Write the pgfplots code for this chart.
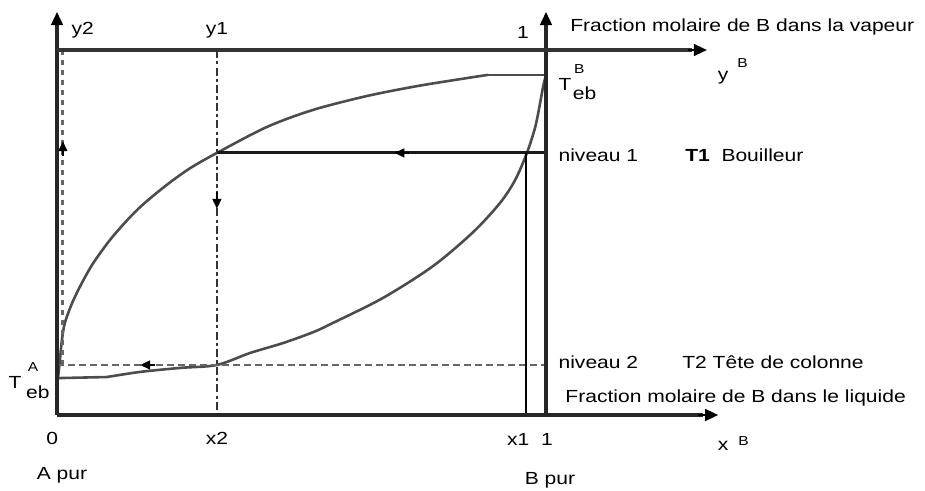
\documentclass[border=0pt]{standalone}
\usepackage{fontspec}
\setmainfont[FakeStretch=1.2]{Liberation Sans}
\usepackage{pgfplots}
\pgfplotsset{compat=1.18}
\usetikzlibrary{arrows.meta}
\definecolor{curvegray}{gray}{0.3}
\definecolor{dashgray}{gray}{0.4}
\begin{document}
\fontsize{8.8}{10}\selectfont
\begin{tikzpicture}
\begin{axis}[x=244.5bp, y=182.5bp, xmin=-0.1, xmax=1.5, ymin=-0.2, ymax=1.13,
  hide axis, clip=false]
% bounding box with the reference proportions
\path (axis cs:-0.1166,-0.2082) rectangle (axis cs:1.7751,1.137);
% dew (vapour) curve
\addplot[curvegray, line width=1.3pt, smooth, tension=0.5] coordinates {
 (0.002,0.101) (0.004,0.125) (0.006,0.151) (0.010,0.205) (0.016,0.252)
 (0.031,0.307) (0.051,0.362) (0.074,0.416) (0.108,0.479) (0.143,0.533)
 (0.176,0.577) (0.225,0.631) (0.272,0.676) (0.327,0.718) (0.429,0.789)
 (0.524,0.836) (0.634,0.874) (0.736,0.901) (0.838,0.923) (0.882,0.932)};
\addplot[curvegray, line width=1.3pt] coordinates {(0.882,0.932) (1.0,0.932)};
% bubble (liquid) curve
\addplot[curvegray, line width=1.3pt] coordinates {(0,0.101) (0.102,0.104)};
\addplot[curvegray, line width=1.3pt, smooth, tension=0.5] coordinates {
 (0.102,0.104) (0.170,0.118) (0.252,0.129) (0.327,0.137) (0.395,0.170)
 (0.462,0.197) (0.524,0.227) (0.564,0.252) (0.667,0.321) (0.769,0.408)
 (0.851,0.501) (0.906,0.581) (0.937,0.644) (0.961,0.718) (0.978,0.789)
 (0.988,0.855) (0.994,0.899) (1.0,0.932)};
% construction lines
\addplot[black!90, line width=1.5pt] coordinates {(0.327,0.718) (1.0,0.718)};
\addplot[dashgray, line width=1.2pt, dash pattern=on 3.5bp off 2bp] coordinates {(0,0.137) (1.0,0.137)};
\addplot[black!80, line width=1.4pt, dash pattern=on 4bp off 1.6bp on 1.6bp off 1.6bp] coordinates {(0.327,1.0) (0.327,0)};
\addplot[dashgray, line width=1.4pt, dash pattern=on 2.5bp off 2.5bp] coordinates {(0.012,1.0) (0.012,0.137)};
\addplot[black, line width=0.7pt] coordinates {(0.959,0) (0.959,0.718)};
% axes
\addplot[black!85, line width=2pt] coordinates {(0,0) (0,1.08)};
\addplot[black!85, line width=2pt] coordinates {(1,0) (1,1.08)};
\addplot[black!85, line width=2pt] coordinates {(0,0) (1.322,0)};
\addplot[black!80, line width=2pt] coordinates {(0,1) (1.299,1)};
% axis arrow tips
\addplot[black, line width=0.8pt, -{Triangle[length=6.5bp,width=6bp]}] coordinates {(0,1.07) (0,1.104)};
\addplot[black, line width=0.8pt, -{Triangle[length=6.5bp,width=6bp]}] coordinates {(1,1.07) (1,1.104)};
\addplot[black, line width=0.8pt, -{Triangle[length=6.5bp,width=6bp]}] coordinates {(1.31,0) (1.352,0)};
\addplot[black, line width=0.8pt, -{Triangle[length=6.5bp,width=6bp]}] coordinates {(1.29,1) (1.329,1)};
% mid arrows
\addplot[black, line width=0.8pt, -{Triangle[length=5bp,width=4.5bp]}] coordinates {(0.72,0.718) (0.69,0.718)};
\addplot[black, line width=0.8pt, -{Triangle[length=5bp,width=4.5bp]}] coordinates {(0.327,0.61) (0.327,0.565)};
\addplot[black, line width=0.8pt, -{Triangle[length=5bp,width=4.5bp]}] coordinates {(0.012,0.71) (0.012,0.75)};
\addplot[black, line width=0.8pt, -{Triangle[length=5bp,width=4.5bp]}] coordinates {(0.20,0.137) (0.17,0.137)};
% labels top
\node[anchor=west, inner sep=0] at (axis cs:0.029,1.055) {y2};
\node[inner sep=0] at (axis cs:0.327,1.055) {y1};
\node[inner sep=0] at (axis cs:0.953,1.047) {1};
\node[anchor=west, inner sep=0] at (axis cs:1.049,1.063) {Fraction molaire de B dans la vapeur};
\node[inner sep=0] at (axis cs:1.362,0.925) {y};
\node[inner sep=0, font=\fontsize{6.5}{7}\selectfont] at (axis cs:1.402,0.963) {B};
% T eb B
\node[anchor=west, inner sep=0] at (axis cs:1.025,0.905) {T};
\node[inner sep=0, font=\fontsize{6.5}{7}\selectfont] at (axis cs:1.068,0.947) {B};
\node[inner sep=0] at (axis cs:1.079,0.882) {eb};
% levels
\node[anchor=west, inner sep=0] at (axis cs:1.025,0.712) {niveau 1};
\node[anchor=west, inner sep=0] at (axis cs:1.284,0.712) {\textbf{T1}\ \ Bouilleur};
\node[anchor=west, inner sep=0] at (axis cs:1.025,0.145) {niveau 2};
\node[anchor=west, inner sep=0] at (axis cs:1.278,0.145) {T2 Tête de colonne};
\node[anchor=west, inner sep=0] at (axis cs:1.039,0.047) {Fraction molaire de B dans le liquide};
% T eb A
\node[inner sep=0] at (axis cs:-0.086,0.088) {T};
\node[inner sep=0, font=\fontsize{6.5}{7}\selectfont] at (axis cs:-0.049,0.131) {A};
\node[inner sep=0] at (axis cs:-0.039,0.063) {eb};
% bottom labels
\node[inner sep=0] at (axis cs:-0.010,-0.063) {0};
\node[inner sep=0] at (axis cs:0.327,-0.063) {x2};
\node[inner sep=0] at (axis cs:0.943,-0.068) {x1};
\node[inner sep=0] at (axis cs:1.002,-0.068) {1};
\node[inner sep=0] at (axis cs:1.362,-0.085) {x};
\node[inner sep=0, font=\fontsize{6.5}{7}\selectfont] at (axis cs:1.404,-0.072) {B};
\node[inner sep=0] at (axis cs:0.010,-0.164) {A pur};
\node[inner sep=0] at (axis cs:1.008,-0.178) {B pur};
\end{axis}
\end{tikzpicture}
\end{document}
